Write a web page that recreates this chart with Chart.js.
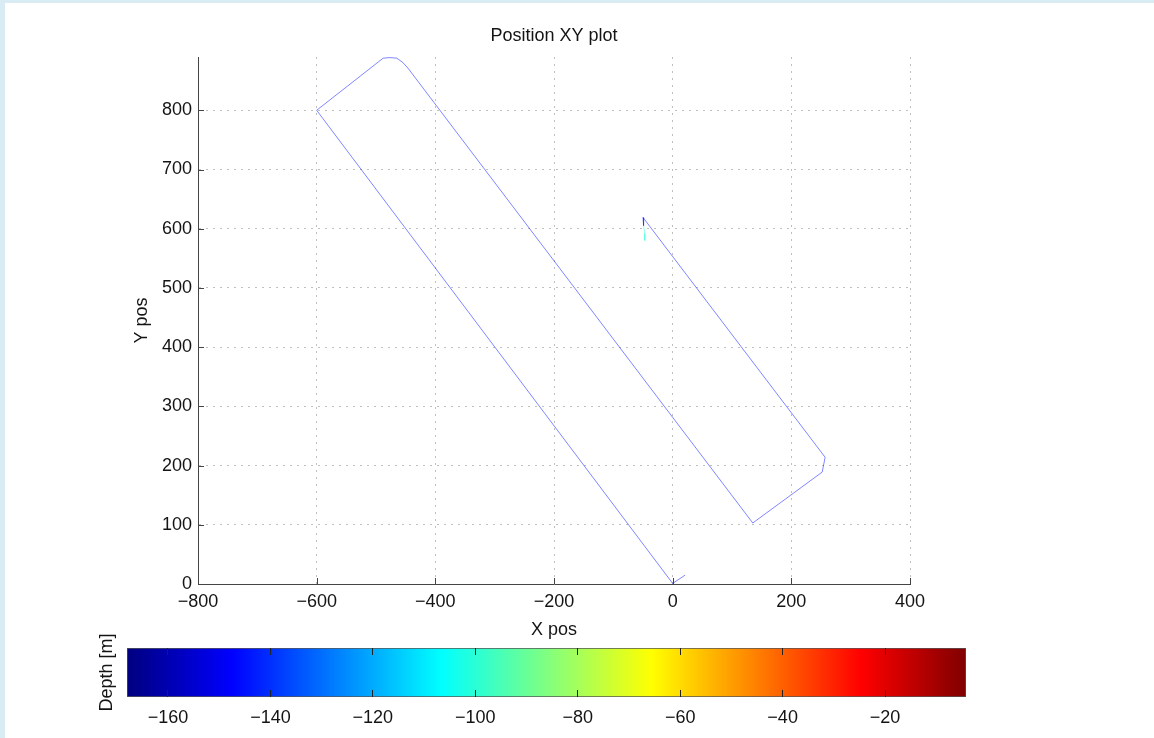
<!DOCTYPE html>
<html>
<head>
<meta charset="utf-8">
<script src="https://cdn.jsdelivr.net/npm/chart.js@4.4.1/dist/chart.umd.min.js"></script>
<style>
  html, body { margin: 0; padding: 0; }
  body { width: 1154px; height: 738px; background: #d9ecf3; position: relative; overflow: hidden; }
  #panel { position: absolute; left: 5px; top: 3px; right: 0; bottom: 0; background: #fff; }
  #xy { position: absolute; left: 0; top: 0; }
  #cbar { position: absolute; left: 0; top: 620px; }
</style>
</head>
<body>
<div id="panel"></div>
<canvas id="xy" width="1154" height="650"></canvas>
<canvas id="cbar" width="1154" height="118"></canvas>
<script>
// vehicle track (metres)
const pathX = [21, 0, -600, -488, -477, -465, -455, -446, 135, 252, 257, -50, -49, -47, -47]
const pathY = [15, 1, 800, 888, 889, 888, 881, 871, 103, 189, 214, 619, 605, 592, 580]
const pathDepth = [-145, -145, -145, -145, -145, -145, -145, -145, -145, -145, -145, -145, -145, -100, -100]

const xTicks = [-800, -600, -400, -200, 0, 200, 400]
const yTicks = [0, 100, 200, 300, 400, 500, 600, 700, 800]
const cbTicks = [-160, -140, -120, -100, -80, -60, -40, -20]
const cbMin = -168
const cbMax = -4.2

const FONT = 'Liberation Sans, Arial, Helvetica, sans-serif'
const TEXT = '#141414'

function jet (v, a = 1) {
  const t = (v - cbMin) / (cbMax - cbMin)
  const c = k => Math.round(255 * Math.max(0, Math.min(1, 1.5 - Math.abs(4 * t - k))))
  return `rgba(${c(3)},${c(2)},${c(1)},${a})`
}

const minus = v => String(v).replace('-', '\u2212')
const setTicks = list => scale => { scale.ticks = list.map(v => ({ value: v })) }

// matlab style: short tick marks pointing into the axes
const innerTicks = {
  id: 'innerTicks',
  afterDraw (chart) {
    const { ctx, chartArea: a, scales: { x, y } } = chart
    ctx.save()
    ctx.strokeStyle = '#444'
    ctx.lineWidth = 1
    ctx.beginPath()
    x.ticks.forEach(t => {
      const px = Math.round(x.getPixelForValue(t.value)) + 0.5
      ctx.moveTo(px, a.bottom)
      ctx.lineTo(px, a.bottom - 6)
    })
    y.ticks.forEach(t => {
      const py = Math.round(y.getPixelForValue(t.value)) + 0.5
      ctx.moveTo(a.left, py)
      ctx.lineTo(a.left + 6, py)
    })
    ctx.stroke()
    ctx.restore()
  },
}

new Chart(document.getElementById('xy'), {
  type: 'scatter',
  data: {
    datasets: [{
      data: pathX.map((x, i) => ({ x, y: pathY[i] })),
      showLine: true,
      borderWidth: 1,
      pointRadius: 0,
      borderColor: jet(pathDepth[0], 0.5),
      segment: {
        borderColor: c => jet(pathDepth[c.p1DataIndex], 0.5),
      },
    }],
  },
  options: {
    responsive: false,
    animation: false,
    devicePixelRatio: 1,
    layout: { padding: { left: 0, right: 244, top: 0, bottom: 0 } },
    plugins: { legend: { display: false }, tooltip: { enabled: false } },
    scales: {
      x: {
        type: 'linear',
        min: -800,
        max: 400,
        afterBuildTicks: setTicks(xTicks),
        afterFit: s => { s.height = 66 },
        ticks: { padding: 7, color: TEXT, font: { family: FONT, size: 18 }, callback: minus, maxRotation: 0 },
        grid: { color: 'rgba(0,0,0,0.25)', drawTicks: false },
        border: { display: true, color: '#444', width: 1, dash: [2, 5] },
        title: { display: true, text: 'X pos', color: TEXT, font: { family: FONT, size: 18 }, padding: { top: 0, bottom: 9 } },
      },
      // top axis only carries the plot title, centred over the axes
      top: {
        type: 'linear',
        position: 'top',
        min: -800,
        max: 400,
        afterFit: s => { s.height = 57 },
        ticks: { display: false },
        grid: { display: false },
        border: { display: false },
        title: { display: true, text: 'Position XY plot', color: TEXT, font: { family: FONT, size: 18 }, padding: { top: 25, bottom: 0 } },
      },
      y: {
        type: 'linear',
        min: 0,
        max: 890,
        afterBuildTicks: setTicks(yTicks),
        afterFit: s => { s.width = 198 },
        ticks: { padding: 6, color: TEXT, font: { family: FONT, size: 18 }, callback: minus },
        grid: { color: 'rgba(0,0,0,0.25)', drawTicks: false },
        border: { display: true, color: '#444', width: 1, dash: [2, 5] },
        title: { display: true, text: 'Y pos', color: TEXT, font: { family: FONT, size: 18 }, padding: { top: 131, bottom: 0 } },
      },
    },
  },
  plugins: [innerTicks],
})

new Chart(document.getElementById('cbar'), {
  type: 'bar',
  data: {
    labels: ['depth'],
    datasets: [{
      data: [[cbMin, cbMax]],
      barPercentage: 1,
      categoryPercentage: 1,
      borderWidth: 1,
      borderColor: '#555',
      borderSkipped: false,
      backgroundColor: ctx => {
        const chart = ctx.chart
        if (!chart.chartArea) return '#00f'
        const sx = chart.scales.x
        const g = chart.ctx.createLinearGradient(sx.getPixelForValue(cbMin), 0, sx.getPixelForValue(cbMax), 0)
        for (let i = 0; i <= 32; i++) g.addColorStop(i / 32, jet(cbMin + (cbMax - cbMin) * i / 32))
        return g
      },
    }],
  },
  options: {
    indexAxis: 'y',
    responsive: false,
    animation: false,
    devicePixelRatio: 1,
    layout: { padding: { left: 0, right: 188, top: 28, bottom: 0 } },
    plugins: { legend: { display: false }, tooltip: { enabled: false } },
    scales: {
      x: {
        type: 'linear',
        min: cbMin,
        max: cbMax,
        afterBuildTicks: setTicks(cbTicks),
        afterFit: s => { s.height = 41 },
        ticks: { padding: 10, color: TEXT, font: { family: FONT, size: 18 }, callback: minus, maxRotation: 0 },
        grid: { color: '#222', drawTicks: false, z: 1 },
        border: { display: false, dash: [7, 35] },
      },
      y: {
        afterFit: s => { s.width = 127 },
        ticks: { display: false },
        grid: { display: false },
        border: { display: false },
        title: { display: true, text: 'Depth [m]', color: TEXT, font: { family: FONT, size: 18 }, padding: { top: 96, bottom: 0 } },
      },
    },
  },
})
</script>
</body>
</html>
